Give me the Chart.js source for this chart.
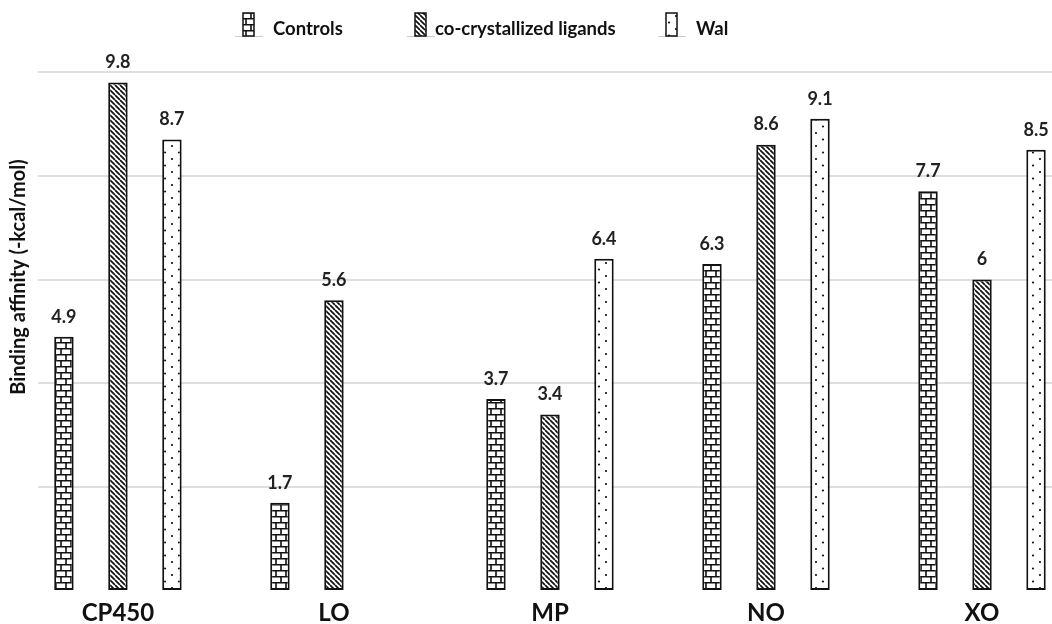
<!DOCTYPE html>
<html>
<head>
<meta charset="utf-8">
<script src="https://cdn.jsdelivr.net/npm/chart.js@4/dist/chart.umd.min.js"></script>
<style>
  html, body { margin: 0; padding: 0; background: #fff; }
  #wrap { width: 1052px; height: 624px; position: relative; }
</style>
</head>
<body>
<div id="wrap"><canvas id="affinityChart"></canvas></div>
<script>
const categories = ['CP450', 'LO', 'MP', 'NO', 'XO'];
const seriesNames = ['Controls', 'co-crystallized ligands', 'Wal'];
const controls = [4.9, 1.7, 3.7, 6.3, 7.7];
const coLigands = [9.8, 5.6, 3.4, 8.6, 6];
const wal = [8.7, null, 6.4, 9.1, 8.5];
const yTicks = [0, 2, 4, 6, 8, 10];
const yTitle = 'Binding affinity (-kcal/mol)';

const FONT = 'Lato, "Open Sans", sans-serif';

function makeTile(w, h, paint) {
  const c = document.createElement('canvas');
  c.width = w;
  c.height = h;
  const g = c.getContext('2d');
  g.fillStyle = '#fff';
  g.fillRect(0, 0, w, h);
  paint(g);
  return g.createPattern(c, 'repeat');
}

// brick wall
const brick = makeTile(10, 12, (g) => {
  g.strokeStyle = '#111';
  g.lineWidth = 1.6;
  g.beginPath();
  g.moveTo(0, 0.8); g.lineTo(10, 0.8);
  g.moveTo(0, 6.8); g.lineTo(10, 6.8);
  g.moveTo(1, 0); g.lineTo(1, 6.8);
  g.moveTo(6, 6.8); g.lineTo(6, 12);
  g.stroke();
});

// "\" diagonal stripes
const stripes = makeTile(5, 5, (g) => {
  g.strokeStyle = '#111';
  g.lineWidth = 1.7;
  g.beginPath();
  [-5, 0, 5].forEach((k) => {
    g.moveTo(k, 0);
    g.lineTo(k + 5, 5);
  });
  g.stroke();
});

// sparse dots
const dots = makeTile(14, 13, (g) => {
  g.fillStyle = '#111';
  g.beginPath();
  g.arc(4, 3, 1.1, 0, Math.PI * 2);
  g.arc(11, 9.5, 1.1, 0, Math.PI * 2);
  g.fill();
});

const fills = [brick, stripes, dots];
const seriesValues = [controls, coLigands, wal];

const valueLabels = {
  id: 'valueLabels',
  afterDatasetsDraw(chart) {
    const { ctx } = chart;
    ctx.save();
    ctx.font = 'bold 18px ' + FONT;
    ctx.fillStyle = '#222';
    ctx.textAlign = 'center';
    ctx.textBaseline = 'middle';
    chart.data.datasets.forEach((ds, di) => {
      chart.getDatasetMeta(di).data.forEach((bar, i) => {
        const v = seriesValues[di][i];
        if (v === null) return;
        ctx.fillText(String(v), bar.x, bar.y - 20);
      });
    });
    ctx.restore();
  }
};

const sideTexts = {
  id: 'sideTexts',
  afterDraw(chart) {
    const { ctx } = chart;
    ctx.save();
    // y axis title
    ctx.translate(19, 277);
    ctx.rotate(-Math.PI / 2);
    ctx.font = 'bold 20px ' + FONT;
    ctx.fillStyle = '#111';
    ctx.textAlign = 'center';
    ctx.textBaseline = 'middle';
    ctx.fillText(yTitle, 0, 0);
    ctx.restore();

    // legend
    const boxX = [243, 415, 666];
    const textX = [273, 435, 696];
    ctx.save();
    ctx.font = 'bold 18.5px ' + FONT;
    ctx.textBaseline = 'alphabetic';
    chart.data.datasets.forEach((ds, i) => {
      ctx.strokeStyle = '#ccc';
      ctx.lineWidth = 1;
      ctx.beginPath();
      ctx.moveTo(boxX[i] - 8, 36.5);
      ctx.lineTo(boxX[i] + 20, 36.5);
      ctx.stroke();
      ctx.fillStyle = ds.backgroundColor;
      ctx.fillRect(boxX[i], 13, 11, 23);
      ctx.strokeStyle = '#111';
      ctx.lineWidth = 1.5;
      ctx.strokeRect(boxX[i], 13, 11, 23);
      ctx.fillStyle = '#111';
      ctx.fillText(ds.label, textX[i], 35);
    });
    ctx.restore();
  }
};

new Chart(document.getElementById('affinityChart'), {
  type: 'bar',
  data: {
    datasets: seriesNames.map((name, di) => ({
      label: name,
      data: seriesValues[di].map((v, i) => ({ x: i, y: v })),
      backgroundColor: fills[di],
      borderColor: '#111',
      borderWidth: 2,
      borderSkipped: false,
      categoryPercentage: 0.75,
      barPercentage: 0.36
    }))
  },
  options: {
    responsive: true,
    maintainAspectRatio: false,
    animation: false,
    devicePixelRatio: 1,
    layout: { padding: { left: 38, right: 0, top: 72, bottom: -11 } },
    plugins: {
      legend: { display: false },
      tooltip: { enabled: false }
    },
    scales: {
      x: {
        type: 'linear',
        offset: false,
        bounds: 'data',
        min: -0.37,
        max: 4.324,
        afterBuildTicks: (axis) => {
          axis.ticks = categories.map((c, i) => ({ value: i }));
        },
        grid: { display: false, drawTicks: false, offset: false },
        border: { display: false },
        ticks: {
          stepSize: 1,
          autoSkip: false,
          maxRotation: 0,
          padding: 10,
          color: '#111',
          font: { family: FONT, size: 24, weight: 'bold', lineHeight: 1 },
          callback: (value) => categories[value] ?? ''
        }
      },
      y: {
        min: yTicks[0],
        max: yTicks[yTicks.length - 1],
        afterBuildTicks: (axis) => {
          axis.ticks = yTicks.map((v) => ({ value: v }));
        },
        grid: {
          drawTicks: false,
          lineWidth: 2,
          color: (c) => (c.tick && c.tick.value === 0 ? 'rgba(0,0,0,0)' : '#dedede')
        },
        border: { display: false },
        ticks: { display: false }
      }
    }
  },
  plugins: [valueLabels, sideTexts]
});
</script>
</body>
</html>
